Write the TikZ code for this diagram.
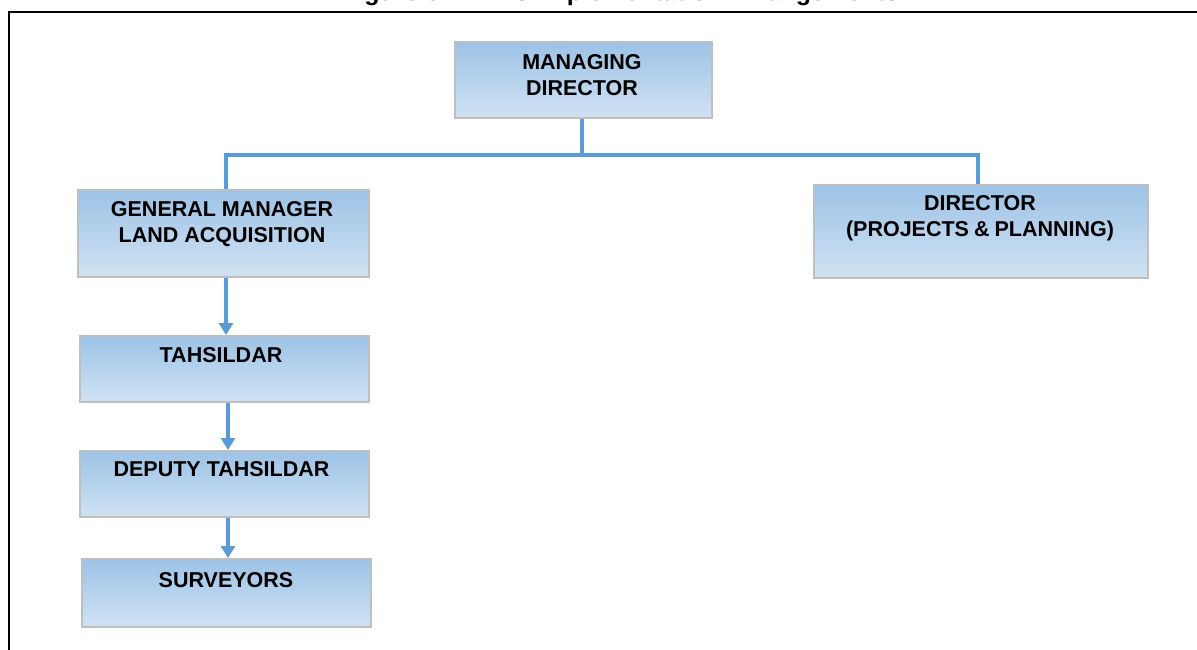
\documentclass[tikz,border=0pt]{standalone}
\usepackage{fontspec}
\setmainfont{Liberation Sans}
\usetikzlibrary{arrows.meta}
\definecolor{conncol}{RGB}{91,155,213}
\definecolor{boxtop}{RGB}{157,195,230}
\definecolor{boxmid}{RGB}{180,209,236}
\definecolor{boxbot}{RGB}{208,226,243}
\definecolor{boxline}{RGB}{191,191,191}
\begin{document}
\begin{tikzpicture}[x=1pt,y=-1pt,
  box/.style={draw=boxline, line width=2pt, top color=boxtop, middle color=boxmid, bottom color=boxbot, inner sep=0pt, anchor=center},
  lbl/.style={font=\bfseries\fontsize{21.5}{26}\selectfont, align=center, inner sep=0pt},
  conn/.style={draw=conncol, line width=4pt},
  arr/.style={conn, -{Triangle[width=14pt,length=12pt]}},
  frameline/.style={draw=black, line width=2pt},
  titlefont/.style={font=\bfseries\fontsize{25}{30}\selectfont, inner sep=0pt}]
\useasboundingbox (0,0) rectangle (1197,650);
\clip (0,0) rectangle (1197,650);
\fill[white] (0,0) rectangle (1197,650);
% title, cut off by the top edge as in the reference
\node[titlefont, anchor=base west] (title) at (342,0.5) {Figure 6.1: RRS Implementation Arrangements};
% frame
\draw[frameline] (1210,12) -| (9,660);
% boxes
\node[box, minimum width=257pt, minimum height=76pt] (md) at (583.5,80) {};
\node[box, minimum width=291pt, minimum height=87pt] (gm) at (223.5,233.5) {};
\node[box, minimum width=334pt, minimum height=93pt] (dir) at (981,231.5) {};
\node[box, minimum width=289pt, minimum height=66pt] (tah) at (224.5,369) {};
\node[box, minimum width=289pt, minimum height=66pt] (dep) at (224.5,484) {};
\node[box, minimum width=289pt, minimum height=68pt] (sur) at (226.5,593) {};
% labels
\node[lbl] (mdt) at (582,75) {MANAGING\\DIRECTOR};
\node[lbl] (gmt) at (222,224) {GENERAL MANAGER\\LAND ACQUISITION};
\node[lbl] (dirt) at (980,218.5) {DIRECTOR\\(PROJECTS\hspace{5pt}\&\hspace{5pt}PLANNING)};
\node[lbl] (taht) at (221,355) {TAHSILDAR};
\node[lbl] (dept) at (221.5,469) {DEPUTY TAHSILDAR};
\node[lbl] (surt) at (226,580) {SURVEYORS};
% connectors
\coordinate (busL) at (226,155);
\coordinate (busR) at (978,155);
\coordinate (mdx) at (582,155);
\draw[conn] ([xshift=-2]busL) -- ([xshift=2]busR);
\draw[conn] (md.south -| mdx) -- (mdx);
\draw[conn] (busL) -- (busL |- gm.north);
\draw[conn] (busR) -- (busR |- dir.north);
\coordinate (colA) at (226,0);
\coordinate (colB) at (228,0);
\draw[arr] (gm.south -| colA) -- (tah.north -| colA);
\draw[arr] (tah.south -| colB) -- (dep.north -| colB);
\draw[arr] (dep.south -| colB) -- (sur.north -| colB);
\end{tikzpicture}
\end{document}
